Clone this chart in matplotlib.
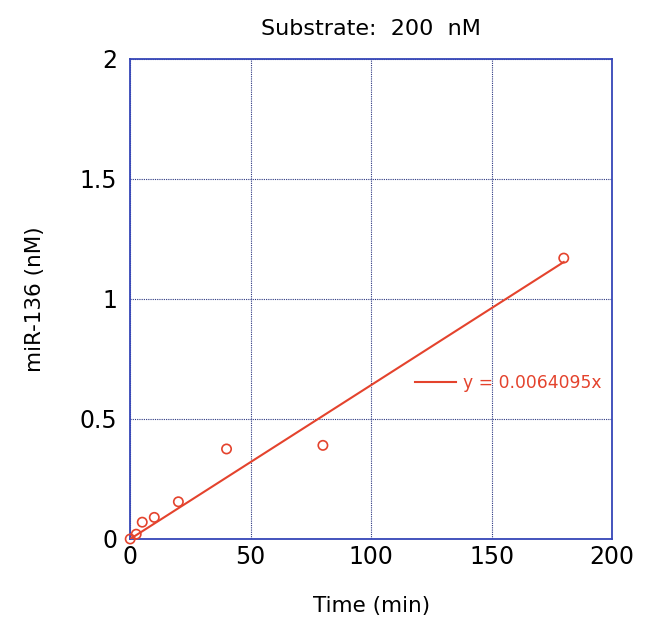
import numpy as np
import matplotlib.pyplot as plt

# miR-136 produced vs time, substrate 200 nM
time_min = [0, 2.5, 5, 10, 20, 40, 80, 180]
mir136_nM = [0.0, 0.02, 0.07, 0.09, 0.155, 0.375, 0.39, 1.17]
slope = 0.0064095

red = "#e4432d"
blue = "#3646b8"

fig = plt.figure(figsize=(6.51, 6.26), dpi=100)
ax = fig.add_axes([0.2, 0.139, 0.74, 0.767])

fit_x = np.array([0, max(time_min)])
ax.plot(fit_x, slope * fit_x, color=red, lw=1.5, label="y = 0.0064095x", zorder=3)
ax.scatter(time_min, mir136_nM, s=45, facecolors="none", edgecolors=red,
           linewidths=1.2, zorder=4, clip_on=False)

ax.set_xlim(0, 200)
ax.set_ylim(0, 2)
ax.set_xticks([0, 50, 100, 150, 200])
ax.set_yticks([0, 0.5, 1, 1.5, 2])
ax.set_yticklabels(["0", "0.5", "1", "1.5", "2"])
ax.tick_params(length=0, labelsize=17)
ax.tick_params(axis="x", pad=4)
ax.tick_params(axis="y", pad=9.5)
ax.grid(True, color="#2a3680", linestyle=(0, (1, 1)), linewidth=0.8)
for s in ax.spines.values():
    s.set_color(blue)
    s.set_linewidth(1.3)

ax.set_xlabel("Time (min)", fontsize=15.5, labelpad=20)
ax.set_ylabel("miR-136 (nM)", fontsize=15.5, labelpad=25)
ax.set_title("Substrate:  200  nM", fontsize=16, pad=17)

leg = ax.legend(loc="center left", bbox_to_anchor=(0.56, 0.325), frameon=False,
                fontsize=12.3, handlelength=2.4, handletextpad=0.4)
for t in leg.get_texts():
    t.set_color(red)

fig.savefig("out.png", dpi=100)
